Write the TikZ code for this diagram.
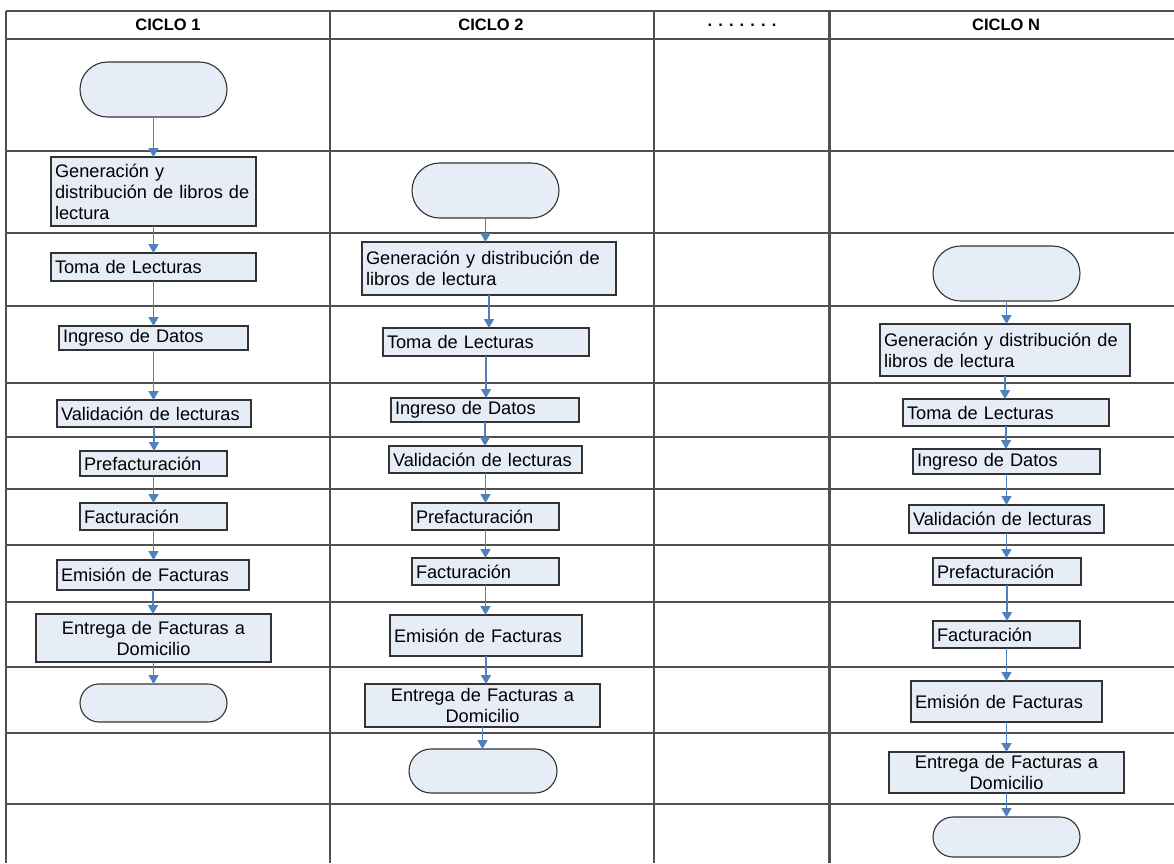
\documentclass[tikz,border=0pt]{standalone}
\usepackage{fontspec}
\setmainfont{Liberation Sans}
\usetikzlibrary{arrows.meta,shapes.misc}

\definecolor{boxfill}{RGB}{231,237,247}
\definecolor{flowblue}{RGB}{79,129,189}
\definecolor{gridgray}{RGB}{80,80,80}

\tikzset{
  procbox/.style={draw=black!80, fill=boxfill, line width=1.1pt, inner xsep=4pt,
    inner ysep=1pt, outer sep=0pt, font=\fontsize{18.2}{21}\selectfont},
  termbox/.style={rounded rectangle, draw=black!80, fill=boxfill, line width=1.1pt,
    inner sep=0pt, outer sep=0pt},
  flow/.style={draw=flowblue, line width=1.5pt, -{Triangle[width=10pt,length=9pt]}},
  gridline/.style={draw=gridgray, line width=1.4pt},
  headtext/.style={font=\fontsize{16.5}{19}\selectfont\bfseries}
}

% process box from its corners: [align] name x1 y1 x2 y2 text
\newcommand\pbox[7][left]{%
  \node[procbox, align=#1, text width={#5-#3-8}, minimum width={#5-#3},
        minimum height={#6-#4}, anchor=north west] (#2) at (#3,#4) {#7};}
% terminal (stadium) from its corners: name x1 y1 x2 y2
\newcommand\tbox[5]{%
  \node[termbox, minimum width={#4-#2}, minimum height={#5-#3}]
    (#1) at ({(#2+#4)/2},{(#3+#5)/2}) {};}

\begin{document}
\begin{tikzpicture}[x=1pt,y=-1pt]
\useasboundingbox (0,0) rectangle (1174,863);

% table grid
\foreach \yy in {11,39,151,233,306,383,437,489,545,602,667,733,804}
  \draw[gridline] (6,\yy) -- (1174,\yy);
\foreach \xx in {6,330,654}
  \draw[gridline] (\xx,11) -- (\xx,863);
\draw[gridline, line width=2.6pt] (829.5,11) -- (829.5,863);

% column headers
\node[headtext] (h1) at (168,25) {CICLO 1};
\node[headtext] (h2) at (491,25) {CICLO 2};
\node[headtext] (h3) at (742,25) {. . . . . . .};
\node[headtext] (h4) at (1006,25) {CICLO N};

% cycle 1
\tbox{s1}{80}{62}{227}{117}
\pbox{g1}{51}{157}{256}{226}{Generación y\\\mbox{distribución de libros de}\\lectura}
\pbox{t1}{51}{253}{256}{281}{Toma de Lecturas}
\pbox{i1}{59}{326}{248}{350}{Ingreso de Datos}
\pbox{v1}{57}{400}{251}{427}{Validación de lecturas}
\pbox{p1}{80}{451}{227}{476}{Prefacturación}
\pbox{f1}{80}{503}{227}{530}{Facturación}
\pbox{e1}{57}{560}{249}{590}{Emisión de Facturas}
\pbox[center]{d1}{36}{614}{271}{662}{Entrega de Facturas a\\Domicilio}
\tbox{x1}{80}{684}{227}{722}

% cycle 2
\tbox{s2}{412}{163}{559}{218}
\pbox{g2}{362}{242}{616}{295}{Generación y distribución de\\libros de lectura}
\pbox{t2}{383}{328}{589}{356}{Toma de Lecturas}
\pbox{i2}{391}{398}{579}{422}{Ingreso de Datos}
\pbox{v2}{389}{446}{582}{473}{Validación de lecturas}
\pbox{p2}{412}{503}{559}{530}{Prefacturación}
\pbox{f2}{412}{558}{559}{585}{Facturación}
\pbox{e2}{390}{615}{582}{656}{Emisión de Facturas}
\pbox[center]{d2}{365}{684}{600}{727}{Entrega de Facturas a\\Domicilio}
\tbox{x2}{409}{749}{557}{793}

% cycle N
\tbox{s3}{933}{246}{1080}{301}
\pbox{g3}{880}{324}{1130}{376}{Generación y distribución de\\libros de lectura}
\pbox{t3}{903}{399}{1109}{426}{Toma de Lecturas}
\pbox{i3}{913}{449}{1100}{474}{Ingreso de Datos}
\pbox{v3}{909}{505}{1104}{533}{Validación de lecturas}
\pbox{p3}{933}{558}{1081}{585}{Prefacturación}
\pbox{f3}{933}{621}{1080}{648}{Facturación}
\pbox{e3}{911}{681}{1102}{722}{Emisión de Facturas}
\pbox[center]{d3}{889}{752}{1124}{793}{Entrega de Facturas a\\Domicilio}
\tbox{x3}{933}{817}{1080}{857}

% flow arrows
\foreach \c in {1,2,3}{
  \foreach \a/\b in {s/g,g/t,t/i,i/v,v/p,p/f,f/e,e/d,d/x}
    \draw[flow] (\a\c.south) -- (\a\c.south |- \b\c.north);
}
\end{tikzpicture}
\end{document}
